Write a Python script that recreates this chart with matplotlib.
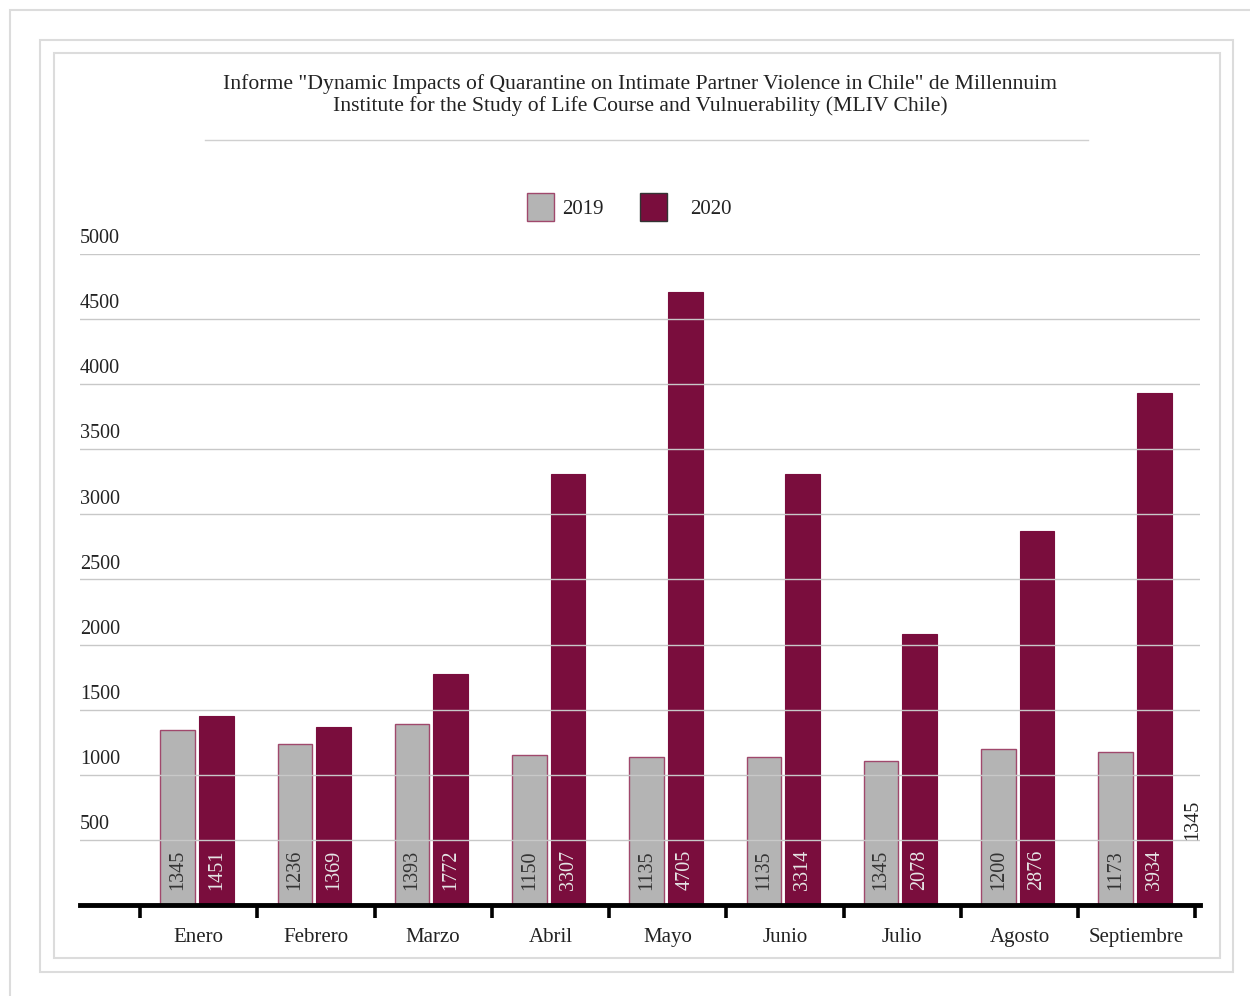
import matplotlib
matplotlib.use("Agg")
import matplotlib.pyplot as plt
from matplotlib.patches import Rectangle
from matplotlib.lines import Line2D
import numpy as np

W, H = 1250, 996

months = ["Enero", "Febrero", "Marzo", "Abril", "Mayo", "Junio", "Julio", "Agosto", "Septiembre"]
series_names = ["2019", "2020"]
values_2019 = [1345, 1236, 1393, 1150, 1135, 1135, 1105, 1200, 1173]
values_2020 = [1451, 1369, 1772, 3307, 4705, 3314, 2078, 2876, 3934]
labels_2019 = ["1345", "1236", "1393", "1150", "1135", "1135", "1345", "1200", "1173"]
labels_2020 = ["1451", "1369", "1772", "3307", "4705", "3314", "2078", "2876", "3934"]
y_ticks = [500, 1000, 1500, 2000, 2500, 3000, 3500, 4000, 4500, 5000]
stray_label = "1345"

title = ('Informe "Dynamic Impacts of Quarantine on Intimate Partner Violence in Chile" de Millennuim\n'
         'Institute for the Study of Life Course and Vulnuerability (MLIV Chile)')

C19 = "#b4b4b4"
C19_EDGE = "#a0486c"
C20 = "#7a0d3d"
FONT = "Liberation Serif"
plt.rcParams["font.family"] = [FONT, "DejaVu Serif"]


def px(x, y):
    return x / W, 1 - y / H


fig = plt.figure(figsize=(W / 100, H / 100), dpi=100)

# nested light frames
for (x0, y0, x1, y1) in [(10, 10, 1262, 1010), (40, 40, 1233, 972), (54, 53, 1220, 958)]:
    fig.add_artist(Rectangle(px(x0, y1), (x1 - x0) / W, (y1 - y0) / H,
                             transform=fig.transFigure, fill=False,
                             edgecolor="#dcdcdc", lw=1.5))

# title and separator
fig.text(*px(640, 95), title, ha="center", va="center", fontsize=15.6,
         color="#222222", linespacing=1.1)
fig.add_artist(Line2D([205 / W, 1088 / W], [1 - 140 / H] * 2, transform=fig.transFigure,
                      color="#d0d0d0", lw=1))

# legend
for name, col, edge, (bx, tx) in zip(series_names, [C19, C20], [C19_EDGE, "#333333"],
                                     [(527, 562), (640, 690)]):
    fig.add_artist(Rectangle(px(bx, 221), 27 / W, 28 / H, transform=fig.transFigure,
                             facecolor=col, edgecolor=edge, lw=1))
    fig.text(*px(tx, 209), name, ha="left", va="center", fontsize=15, color="#222222")

# main axes: x 80..1200, y 254 (5000) .. 905 (0)
ax = fig.add_axes([80 / W, (H - 905) / H, 1120 / W, 651 / H])
ax.set_ylim(0, 5000)
ax.set_xlim(-1.012, 8.54)
for s in ax.spines.values():
    s.set_visible(False)

x = np.arange(len(months))
bw = 0.295
ax.bar(x - 0.18, values_2019, bw, color=C19, edgecolor=C19_EDGE, lw=1, zorder=2)
ax.bar(x + 0.15, values_2020, bw, color=C20, edgecolor=C20, lw=0.8, zorder=2)

for yv in y_ticks:
    ax.axhline(yv, color="#c8c8c8", lw=1, zorder=3)
    ax.text(-1.012, yv + 45, str(yv), ha="left", va="bottom", fontsize=14.5, color="#222222")

for xi, l19, l20 in zip(x, labels_2019, labels_2020):
    ax.text(xi - 0.18, 115, l19, rotation=90, ha="center", va="bottom",
            fontsize=14.5, color="#333333", zorder=4)
    ax.text(xi + 0.15, 115, l20, rotation=90, ha="center", va="bottom",
            fontsize=14.5, color="#e6e6e6", zorder=4)

ax.text(8.48, 500, stray_label, rotation=90, ha="center", va="bottom",
        fontsize=14.5, color="#222222", clip_on=False)

ax.axhline(0, color="black", lw=3.5, zorder=5, clip_on=False)
ax.set_xticks(np.arange(-0.5, len(months), 1.0))
ax.set_xticklabels([])
ax.tick_params(axis="x", direction="out", length=9.5, width=2.6, color="black")
ax.set_yticks([])

for xi, m in zip(x, months):
    ax.text(xi, -250, m, ha="center", va="center", fontsize=15, color="#222222",
            clip_on=False)

fig.savefig("out.png", dpi=100)
